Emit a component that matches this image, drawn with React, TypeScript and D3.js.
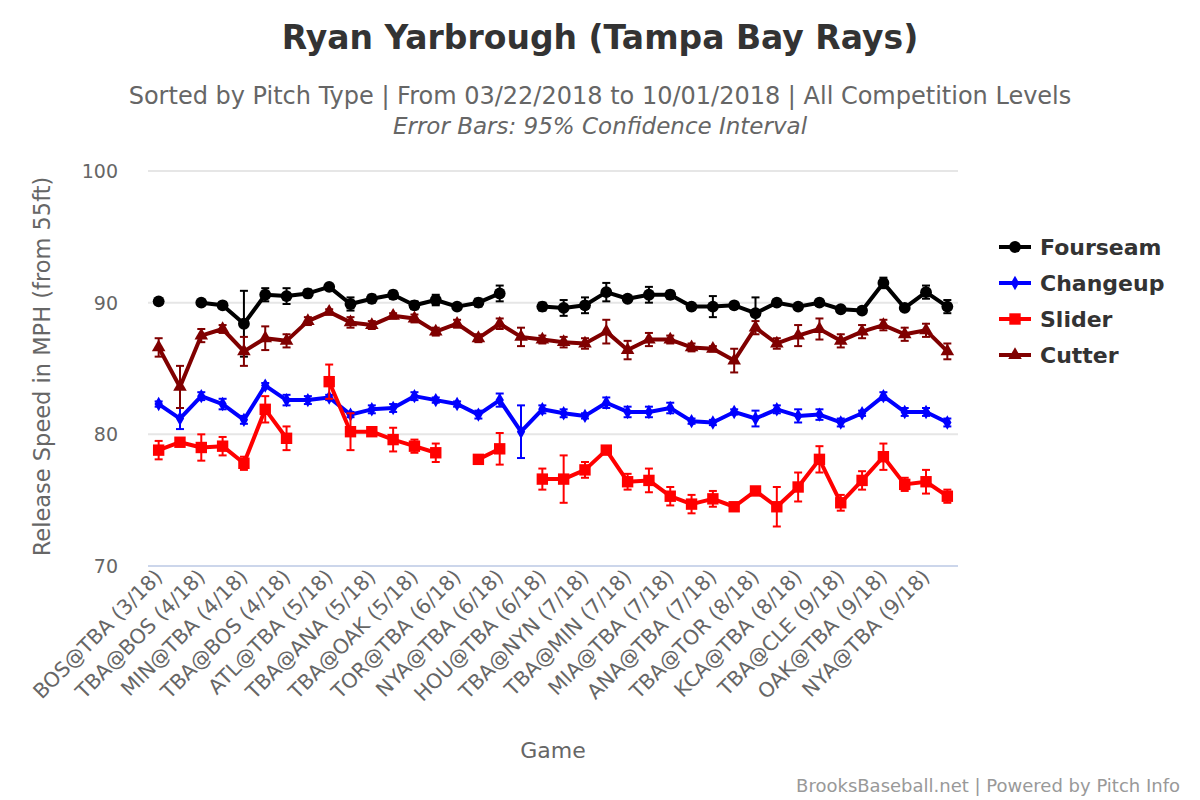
import React from "react";
import * as d3 from "d3";

const games = [
  "BOS@TBA (3/18)", "g1", "TBA@BOS (4/18)", "g3", "MIN@TBA (4/18)", "g5", "TBA@BOS (4/18)", "g7",
  "ATL@TBA (5/18)", "g9", "TBA@ANA (5/18)", "g11", "TBA@OAK (5/18)", "g13", "TOR@TBA (6/18)", "g15",
  "NYA@TBA (6/18)", "g17", "HOU@TBA (6/18)", "g19", "TBA@NYN (7/18)", "g21", "TBA@MIN (7/18)", "g23",
  "MIA@TBA (7/18)", "g25", "ANA@TBA (7/18)", "g27", "TBA@TOR (8/18)", "g29", "KCA@TBA (8/18)", "g31",
  "TBA@CLE (9/18)", "g33", "OAK@TBA (9/18)", "g35", "NYA@TBA (9/18)", "g37",
];
const yTicks = [70, 80, 90, 100];

const fourseam = [90.1, null, 90.0, 89.8, 88.4, 90.6, 90.5, 90.7, 91.2, 89.9, 90.3, 90.6, 89.8, 90.2, 89.7, 90.0, 90.7, null, 89.7, 89.6, 89.8, 90.8, 90.3, 90.6, 90.6, 89.7, 89.7, 89.8, 89.2, 90.0, 89.7, 90.0, 89.5, 89.4, 91.5, 89.6, 90.8, 89.7];
const fourseamErr = [0, 0, 0.2, 0.2, 2.5, 0.5, 0.6, 0.3, 0.2, 0.5, 0.3, 0.3, 0.3, 0.4, 0.2, 0.3, 0.6, 0, 0.3, 0.6, 0.6, 0.7, 0.2, 0.6, 0.3, 0.2, 0.8, 0.2, 1.2, 0.2, 0.2, 0.2, 0.2, 0.2, 0.4, 0.2, 0.5, 0.5];
const changeup = [82.3, 81.2, 82.9, 82.3, 81.1, 83.7, 82.6, 82.6, 82.8, 81.5, 81.9, 82.0, 82.9, 82.6, 82.3, 81.5, 82.6, 80.2, 81.9, 81.6, 81.4, 82.4, 81.7, 81.7, 82.0, 81.0, 80.9, 81.7, 81.2, 81.9, 81.4, 81.5, 80.9, 81.6, 82.9, 81.7, 81.7, 80.9];
const changeupErr = [0.2, 0.8, 0.3, 0.4, 0.3, 0.2, 0.4, 0.3, 0.2, 0.2, 0.3, 0.3, 0.3, 0.2, 0.2, 0.3, 0.5, 2.0, 0.3, 0.3, 0.2, 0.4, 0.4, 0.4, 0.4, 0.2, 0.2, 0.2, 0.6, 0.3, 0.5, 0.4, 0.3, 0.2, 0.3, 0.3, 0.3, 0.3];
const slider = [78.8, 79.4, 79.0, 79.1, 77.8, 81.9, 79.7, null, 84.0, 80.2, 80.2, 79.6, 79.1, 78.6, null, 78.1, 78.9, null, 76.6, 76.6, 77.3, 78.8, 76.4, 76.5, 75.3, 74.7, 75.1, 74.5, 75.7, 74.5, 76.0, 78.1, 74.8, 76.5, 78.3, 76.2, 76.4, 75.3];
const sliderErr = [0.7, 0.3, 1.0, 0.7, 0.5, 1.0, 0.9, 0, 1.3, 1.4, 0.2, 0.9, 0.5, 0.7, 0, 0.2, 1.2, 0, 0.8, 1.8, 0.6, 0.2, 0.6, 0.9, 0.7, 0.7, 0.6, 0.2, 0.2, 1.5, 1.1, 1.0, 0.6, 0.7, 1.0, 0.5, 0.9, 0.5];
const cutter = [86.6, 83.6, 87.5, 88.0, 86.3, 87.3, 87.1, 88.6, 89.3, 88.5, 88.3, 89.0, 88.8, 87.8, 88.4, 87.3, 88.4, 87.4, 87.2, 87.0, 86.9, 87.8, 86.4, 87.2, 87.2, 86.6, 86.5, 85.6, 88.1, 86.9, 87.5, 88.0, 87.1, 87.8, 88.3, 87.6, 87.9, 86.3];
const cutterErr = [0.7, 1.6, 0.5, 0.3, 1.1, 0.9, 0.5, 0.3, 0.2, 0.4, 0.3, 0.2, 0.3, 0.3, 0.3, 0.3, 0.4, 0.7, 0.3, 0.4, 0.4, 0.9, 0.7, 0.5, 0.3, 0.3, 0.2, 0.9, 0.5, 0.4, 0.8, 0.8, 0.5, 0.5, 0.4, 0.5, 0.5, 0.6];

const series = [
  { name: "Fourseam", color: "#000000", values: fourseam, err: fourseamErr, shape: d3.symbolCircle, size: 110 },
  { name: "Changeup", color: "#0000ff", values: changeup, err: changeupErr, shape: d3.symbolDiamond, size: 60 },
  { name: "Slider", color: "#ff0000", values: slider, err: sliderErr, shape: d3.symbolSquare, size: 130 },
  { name: "Cutter", color: "#800000", values: cutter, err: cutterErr, shape: d3.symbolTriangle, size: 80 },
];

const font = "'DejaVu Sans', sans-serif";

export default function App() {
  const left = 148, right = 958, top = 171, bottom = 566;
  const x = d3.scaleBand<number>().domain(games.map((_, i) => i)).range([left, right]);
  const cx = (i: number) => x(i)! + x.bandwidth() / 2;
  const y = d3.scaleLinear().domain([70, 100]).range([bottom, top]);

  return (
    <svg width={1200} height={800} style={{ position: "absolute", left: 0, top: 0, fontFamily: font }}>
      <rect width={1200} height={800} fill="#fff" />
      <text x={600} y={49} textAnchor="middle" fontSize={33} fontWeight="bold" fill="#333">Ryan Yarbrough (Tampa Bay Rays)</text>
      <text x={600} y={104} textAnchor="middle" fontSize={24} fill="#666">Sorted by Pitch Type | From 03/22/2018 to 10/01/2018 | All Competition Levels</text>
      <text x={600} y={134} textAnchor="middle" fontSize={23} fontStyle="italic" fill="#666">Error Bars: 95% Confidence Interval</text>

      {yTicks.map((t) => (
        <g key={t}>
          <line x1={left} x2={right} y1={y(t)} y2={y(t)} stroke={t === 70 ? "#ccd6eb" : "#e6e6e6"} strokeWidth={2} />
          <text x={118} y={y(t) + 7} textAnchor="end" fontSize={19} fill="#666">{t}</text>
        </g>
      ))}
      <text transform={`translate(50,${(top + bottom) / 2 - 2}) rotate(-90)`} textAnchor="middle" fontSize={22.5} fill="#666">Release Speed in MPH (from 55ft)</text>

      {games.map((g, i) => i % 2 === 0 && (
        <text key={i} transform={`translate(${cx(i) + 5},${bottom + 12}) rotate(-45)`} textAnchor="end" fontSize={20.5} fill="#666">{g}</text>
      ))}
      <text x={553} y={758} textAnchor="middle" fontSize={22} fill="#666">Game</text>

      {series.map((s) => {
        const line = d3.line<number | null>()
          .defined((v) => v !== null)
          .x((_, i) => cx(i))
          .y((v) => y(v as number));
        const sym = d3.symbol().type(s.shape).size(s.size);
        return (
          <g key={s.name}>
            <path d={line(s.values)!} fill="none" stroke={s.color} strokeWidth={4} strokeLinejoin="round" />
            {s.values.map((v, i) => v !== null && s.err[i] > 0 && (
              <g key={"e" + i} stroke={s.color} strokeWidth={2}>
                <line x1={cx(i)} x2={cx(i)} y1={y(v + s.err[i])} y2={y(v - s.err[i])} />
                <line x1={cx(i) - 4} x2={cx(i) + 4} y1={y(v + s.err[i])} y2={y(v + s.err[i])} />
                <line x1={cx(i) - 4} x2={cx(i) + 4} y1={y(v - s.err[i])} y2={y(v - s.err[i])} />
              </g>
            ))}
            {s.values.map((v, i) => v !== null && (
              <path key={"p" + i} d={sym()!} transform={`translate(${cx(i)},${y(v)})`} fill={s.color} />
            ))}
          </g>
        );
      })}

      {series.map((s, k) => {
        const ly = 247 + k * 36;
        const sym = d3.symbol().type(s.shape).size(s.size);
        return (
          <g key={s.name}>
            <line x1={999} x2={1031} y1={ly} y2={ly} stroke={s.color} strokeWidth={4} />
            <path d={sym()!} transform={`translate(1015,${ly})`} fill={s.color} />
            <text x={1040} y={ly + 8} fontSize={22} fontWeight="bold" fill="#333">{s.name}</text>
          </g>
        );
      })}

      <text x={1180} y={792} textAnchor="end" fontSize={18} fill="#999">BrooksBaseball.net | Powered by Pitch Info</text>
    </svg>
  );
}
